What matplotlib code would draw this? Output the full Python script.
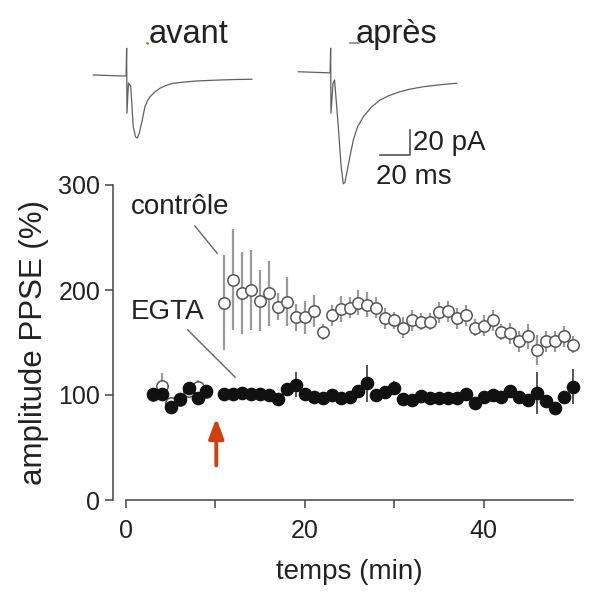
import matplotlib
matplotlib.use("Agg")
import matplotlib.pyplot as plt

plt.rcParams['font.family'] = ['Liberation Sans', 'DejaVu Sans']

# time points (min)
t_ctrl = [3, 4, 5, 6, 7, 8, 9,
          11, 12, 13, 14, 15, 16, 17, 18, 19, 20,
          21, 22, 23, 24, 25, 26, 27, 28, 29, 30,
          31, 32, 33, 34, 35, 36, 37, 38, 39, 40,
          41, 42, 43, 44, 45, 46, 47, 48, 49, 50]
ctrl_mean = [100, 109, 92, 95, 104, 108, 103,
             188, 210, 197, 200, 190, 197, 184, 189, 174, 174,
             180, 160, 176, 182, 183, 188, 186, 183, 173, 171,
             164, 171, 170, 170, 179, 180, 173, 176, 164, 166,
             171, 160, 159, 151, 156, 143, 151, 151, 156, 148]
ctrl_err = [4, 12, 5, 6, 5, 6, 4,
            45, 48, 39, 38, 29, 31, 13, 23, 13, 16,
            15, 8, 10, 12, 10, 12, 12, 10, 10, 8,
            10, 10, 8, 8, 10, 10, 10, 10, 8, 10,
            10, 8, 10, 10, 12, 14, 10, 10, 10, 8]

t_egta = [3, 4, 5, 6, 7, 8, 9,
          11, 12, 13, 14, 15, 16, 17, 18, 19, 20,
          21, 22, 23, 24, 25, 26, 27, 28, 29, 30,
          31, 32, 33, 34, 35, 36, 37, 38, 39, 40,
          41, 42, 43, 44, 45, 46, 47, 48, 49, 50]
egta_mean = [101, 101, 89, 96, 107, 97, 104,
             101, 101, 102, 101, 101, 100, 96, 106, 110, 101,
             98, 97, 100, 97, 98, 104, 111, 100, 103, 107,
             96, 95, 99, 97, 97, 97, 97, 101, 92, 98,
             100, 98, 104, 98, 95, 102, 94, 88, 98, 108]
egta_err = [5, 6, 5, 5, 5, 5, 5,
            6, 5, 6, 5, 5, 5, 5, 5, 12, 5,
            5, 5, 6, 5, 5, 6, 18, 6, 5, 6,
            6, 5, 6, 5, 5, 5, 5, 5, 6, 5,
            5, 5, 6, 6, 5, 20, 6, 5, 6, 17]

# example currents (ms, pA)
avant_t = [8.9, 28.9, 30.7, 31.1, 31.3, 32.3, 33.8, 35.5, 37.0, 38.2,
           39.5, 41.5, 43.3, 45.0, 46.7, 50.0, 53.3, 57.0, 62.0, 70.0,
           77.8, 85.0, 93.3, 104.0, 114.5]
avant_i = [0, -0.8, -0.8, 21.4, -30.6, -6.4, -8.8, -41.4, -49.5, -50.5,
           -46.5, -36.0, -25.4, -20.5, -17.4, -13.5, -10.6, -8.5, -6.6, -5.6,
           -4.8, -4.4, -4.0, -3.6, -3.4]
apres_t = [145.5, 164.5, 166.7, 167.1, 167.3, 168.7, 169.7, 172.2, 174.0,
           175.5, 176.6, 177.8, 180.0, 182.2, 185.0, 188.9, 194.0, 200.0,
           206.0, 213.3, 220.0, 228.9, 240.0, 251.1]
apres_i = [2.6, 1.8, 1.6, 21.4, -30.6, -6.6, -4.0, -41.4, -72.0,
           -87.0, -86.0, -78.6, -65.0, -52.0, -41.5, -33.4, -26.0, -20.0,
           -16.5, -13.4, -11.3, -9.4, -7.8, -6.6]

W, H = 605, 608
txt = '#222222'
fig = plt.figure(figsize=(W / 100, H / 100), dpi=100)

# traces on top
tr = fig.add_axes([80 / W, 1 - 200 / H, 400 / W, 200 / H])
tr.set_xlim(0, 400 / 1.5)
tr.set_ylim(-100, 60)
tr.axis('off')
tr.plot(avant_t, avant_i, color='#606060', lw=0.9)
tr.plot(apres_t, apres_i, color='#606060', lw=0.9)
tr.plot([200, 220, 220], [-64, -64, -44], color='#555555', lw=1.2)
tr.text(222, -54, '20 pA', fontsize=20, color=txt, va='center', ha='left')
tr.text(197, -82, '20 ms', fontsize=20, color=txt, va='center', ha='left')
tr.plot([180, 186], [25.6, 25.6], color='#888888', lw=1.2)
tr.plot([44.5], [25.6], marker='.', color='#e07030', ms=2)
fig.text(188 / W, 1 - 43 / H, 'avant', fontsize=23.5, color=txt,
         ha='center', va='baseline')
fig.text(396 / W, 1 - 43 / H, 'après', fontsize=23.5, color=txt,
         ha='center', va='baseline')

# main plot
ax = fig.add_axes([126 / W, 108 / H, 447 / W, 315 / H])
ax.errorbar(t_ctrl, ctrl_mean, yerr=ctrl_err, fmt='o', ms=8.2,
            mfc='white', mec='#555555', mew=1.1, ecolor='#9a9a9a',
            elinewidth=1.6, capsize=0, zorder=3, clip_on=False)
ax.errorbar(t_egta, egta_mean, yerr=egta_err, fmt='o', ms=8.8,
            mfc='#111111', mec='#111111', ecolor='#555555',
            elinewidth=1.4, capsize=0, zorder=4, clip_on=False)

ax.set_xlim(0, 50)
ax.set_ylim(0, 300)
ax.set_xticks([0, 20, 40])
ax.set_xticks([10, 30], minor=True)
ax.set_yticks([0, 100, 200, 300])
for s in ['top', 'right']:
    ax.spines[s].set_visible(False)
ax.spines['left'].set_position(('outward', 9.5))
for s in ['left', 'bottom']:
    ax.spines[s].set_color('#444444')
    ax.spines[s].set_linewidth(1.1)
ax.tick_params(which='both', direction='out', length=6, width=1.1,
               color='#444444', labelsize=18, labelcolor=txt)
ax.tick_params(axis='x', pad=8)
ax.tick_params(axis='y', pad=3)
ax.set_xlabel('temps (min)', fontsize=20, color=txt, labelpad=11)
ax.set_ylabel('amplitude PPSE (%)', fontsize=22.5, color=txt, labelpad=7)

ax.text(0.55, 279, 'contrôle', fontsize=20, color=txt, va='center')
ax.text(0.55, 179, 'EGTA', fontsize=20, color=txt, va='center')
ax.plot([7.7, 10.2], [261, 235], color='#666666', lw=1.0, clip_on=False)
ax.plot([6.9, 12.2], [162, 117], color='#666666', lw=1.0, clip_on=False)

ax.annotate('', xy=(10.1, 78), xytext=(10.1, 33),
            arrowprops=dict(arrowstyle='-|>,head_length=1.2,head_width=0.45',
                            color='#d0400f', lw=2.8, mutation_scale=10,
                            shrinkA=0, shrinkB=0))

fig.savefig('out.png', dpi=100)
